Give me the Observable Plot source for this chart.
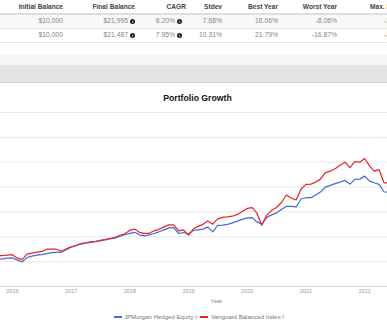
<!DOCTYPE html>
<html><head><meta charset="utf-8">
<script src="https://cdn.jsdelivr.net/npm/d3@7"></script>
<script src="https://cdn.jsdelivr.net/npm/@observablehq/plot@0.6"></script>
<style>
html,body{margin:0;padding:0;background:#fff;}
#page{position:relative;width:387px;height:323px;overflow:hidden;font-family:"Liberation Sans",Arial,sans-serif;background:#fff;}
.t{position:absolute;white-space:nowrap;line-height:1;}
.h{font-weight:bold;font-size:6.6px;color:#444;}
.v{font-size:6.8px;color:#858585;}
.ic{display:inline-block;width:5px;height:5px;border-radius:50%;background:#1a1a1a;color:#fff;font-size:4px;line-height:5px;text-align:center;font-weight:bold;}
.band{position:absolute;left:0;width:387px;}
#chart{position:absolute;left:0;top:82px;}
</style></head>
<body><div id="page"></div>
<script>
// ---- table data ----
const tableHeaders = ["Initial Balance","Final Balance","CAGR","Stdev","Best Year","Worst Year","Max. Drawdown"];
const rowJPM = ["$10,000","$21,995","8.20%","7.68%","16.06%","-8.06%","-14.21%"];
const rowVBI = ["$10,000","$21,487","7.95%","10.31%","21.79%","-16.87%","-21.08%"];
const infoCols = [1,2];

// ---- chart data ----
const chartTitle = "Portfolio Growth";
const seriesNames = ["JPMorgan Hedged Equity I","Vanguard Balanced Index I"];
const months = [
"2015-10","2015-11","2015-12",
"2016-01","2016-02","2016-03","2016-04","2016-05","2016-06","2016-07","2016-08","2016-09","2016-10","2016-11","2016-12",
"2017-01","2017-02","2017-03","2017-04","2017-05","2017-06","2017-07","2017-08","2017-09","2017-10","2017-11","2017-12",
"2018-01","2018-02","2018-03","2018-04","2018-05","2018-06","2018-07","2018-08","2018-09","2018-10","2018-11","2018-12",
"2019-01","2019-02","2019-03","2019-04","2019-05","2019-06","2019-07","2019-08","2019-09","2019-10","2019-11","2019-12",
"2020-01","2020-02","2020-03","2020-04","2020-05","2020-06","2020-07","2020-08","2020-09","2020-10","2020-11","2020-12",
"2021-01","2021-02","2021-03","2021-04","2021-05","2021-06","2021-07","2021-08","2021-09","2021-10","2021-11","2021-12",
"2022-01","2022-02","2022-03","2022-04","2022-05","2022-06"];
const jpmValues = [15250,15270,15350,
15370,15150,14970,15400,15550,15650,15700,15800,15900,15930,15950,16200,
16450,16600,16770,16850,16930,17000,17080,17180,17280,17370,17550,17700,
17850,17950,17700,17600,17700,17830,18000,18200,18400,18430,17830,17930,
17770,18150,18200,18270,18500,18000,18650,18670,18750,18900,19080,19250,
19400,19430,19000,18770,19450,19700,19900,20250,20570,20550,20500,21300,
21430,21430,21700,22000,22500,22670,22850,23000,23170,22800,23270,23300,
23600,23100,22930,22770,22030,21950];
const vbiValues = [15600,15600,15650,
15700,15350,15200,15750,15850,15950,16000,16250,16270,16250,16050,16300,
16500,16650,16820,16900,16980,17050,17150,17250,17350,17450,17650,17800,
18150,18270,17950,17850,17850,18100,18250,18500,18700,18700,18100,18200,
17670,18300,18550,18750,19100,18770,19300,19450,19500,19570,19750,20050,
20350,20430,19900,18670,19650,20150,20450,20950,21700,21400,21200,22300,
22770,22800,23000,23300,23950,24100,24350,24700,25000,24450,25070,25000,
25370,24600,24100,24250,22930,22930];
const yTicks = [12500,15000,17500,20000,22500,25000,27500,30000];
const yearTicks = ["2016-01","2017-01","2018-01","2019-01","2020-01","2021-01","2022-01"];
const xAxisLabel = "Year";

// ---- layout (positions only) ----
const page = document.getElementById("page");
function el(cls, txt, css){const d=document.createElement("div");d.className="t "+cls;d.textContent=txt;Object.assign(d.style,css);page.appendChild(d);return d;}

function box(css){const d=document.createElement("div");d.className="band";Object.assign(d.style,css);page.appendChild(d);}
box({top:"14px",height:"14px",background:"#f8f8f8"});
box({top:"13px",height:"2px",background:"#dedede"});
box({top:"28px",height:"1px",background:"#e6e6e6"});
box({top:"42px",height:"1px",background:"#e6e6e6"});
box({top:"55px",height:"10px",background:"#f4f5f8"});
box({top:"65px",height:"17px",background:"#e4e4e4"});
box({top:"82px",height:"1px",background:"#d2d2d2"});

const headRight = [63,135,186,222,278,337,null];
const valRight = [63,128,175,222,278,337,409];
tableHeaders.forEach((h,i)=>{
  if(headRight[i]===null) el("h",h,{left:"370px",top:"7px",transform:"translateY(-50%)"});
  else el("h",h,{left:headRight[i]+"px",top:"7px",transform:"translate(-100%,-50%)"});
});
[[rowJPM,21],[rowVBI,35]].forEach(([row,yc])=>{
  row.forEach((v,i)=>{
    el("v",v,{left:valRight[i]+"px",top:yc+"px",transform:"translate(-100%,-50%)"});
    if(infoCols.includes(i)){
      const s=document.createElement("span");s.className="ic t";s.textContent="i";
      Object.assign(s.style,{left:(valRight[i]+2)+"px",top:(yc-2.5)+"px"});page.appendChild(s);
    }
  });
});

el("",chartTitle,{left:"197.5px",top:"98.3px",transform:"translate(-50%,-50%)",fontWeight:"bold",fontSize:"8.7px",color:"#111"});
el("",xAxisLabel,{left:"216.5px",top:"301px",transform:"translate(-50%,-50%)",fontSize:"6px",color:"#888"});
const colors = ["#3c6ddc","#ee2020"];
const legendX = [[114,124],[200,211]];
seriesNames.forEach((n,i)=>{
  const ln=document.createElement("div");
  Object.assign(ln.style,{position:"absolute",left:legendX[i][0]+"px",top:"316.3px",width:"8px",height:"1.5px",background:colors[i]});
  page.appendChild(ln);
  el("",n,{left:legendX[i][1]+"px",top:"317px",transform:"translateY(-50%)",fontSize:"6.1px",color:"#777"});
});

const parse = d3.utcParse("%Y-%m");
const jpm = months.map((m,i)=>({date:parse(m),value:jpmValues[i]}));
const vbi = months.map((m,i)=>({date:parse(m),value:vbiValues[i]}));

const chart = Plot.plot({
  width:387, height:241,
  marginTop:30, marginBottom:37, marginLeft:0, marginRight:0,
  style:{fontFamily:"Liberation Sans, Arial, sans-serif",background:"transparent"},
  x:{type:"utc",domain:[new Date(Date.UTC(2015,9,19)),new Date(Date.UTC(2022,4,23))],axis:null},
  y:{domain:[12500,30000],axis:null},
  marks:[
    Plot.gridY(yTicks,{stroke:"#e9e9e9",strokeOpacity:1}),
    Plot.ruleY([yTicks[0]],{stroke:"#dcdcdc"}),
    Plot.lineY(jpm,{x:"date",y:"value",stroke:colors[0],strokeWidth:1.2,clip:true}),
    Plot.lineY(vbi,{x:"date",y:"value",stroke:colors[1],strokeWidth:1.2,clip:true}),
    Plot.axisX(yearTicks.map(parse),{tickSize:0,tickPadding:3,tickFormat:d3.utcFormat("%Y"),fontSize:5.5,fill:"#999",label:null})
  ]
});
chart.id="chart";
page.appendChild(chart);
</script>
</body></html>
